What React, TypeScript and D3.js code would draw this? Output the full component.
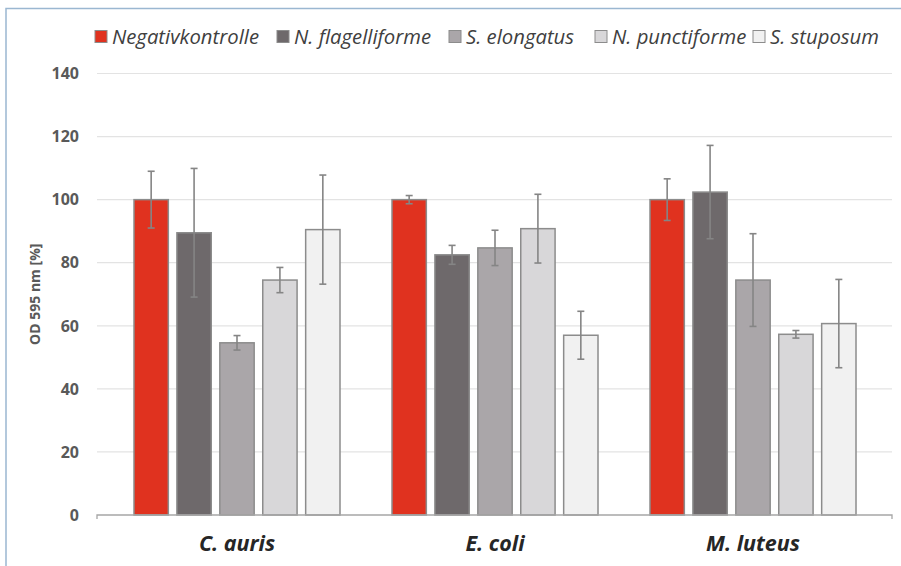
import React from 'react';
import * as d3 from 'd3';

const categories = ['C. auris', 'E. coli', 'M. luteus'];
const seriesNames = ['Negativkontrolle', 'N. flagelliforme', 'S. elongatus', 'N. punctiforme', 'S. stuposum'];
const seriesColors = ['#e0321f', '#6e696b', '#aaa6a9', '#d8d7d9', '#f1f1f1'];

// one array per series: values for C. auris, E. coli, M. luteus
const negativ = [100, 100, 100];
const flagelliforme = [89.5, 82.5, 102.4];
const elongatus = [54.6, 84.7, 74.5];
const punctiforme = [74.5, 90.8, 57.3];
const stuposum = [90.5, 57, 60.7];

const negativErr = [9, 1.3, 6.6];
const flagelliformeErr = [20.4, 3, 14.8];
const elongatusErr = [2.3, 5.6, 14.7];
const punctiformeErr = [4, 10.9, 1.2];
const stuposumErr = [17.3, 7.6, 14];

const seriesValues = [negativ, flagelliforme, elongatus, punctiforme, stuposum];
const seriesErrors = [negativErr, flagelliformeErr, elongatusErr, punctiformeErr, stuposumErr];

const yTicks = [0, 20, 40, 60, 80, 100, 120, 140];

const W = 901;
const H = 566;
const plotLeft = 97;
const plotRight = 892;
const labelColor = '#595959';
const font = "'Open Sans', Lato, sans-serif";

export default function App() {
  const y = d3.scaleLinear().domain([0, 140]).range([515, 73.5]);
  const x0 = d3.scaleBand<string>().domain(categories).range([108, 882]);
  const groupWidth = 206;
  const x1 = d3.scaleBand<string>().domain(seriesNames).range([0, groupWidth]).paddingInner(0.2);

  // legend layout: x where each label's text starts
  const legendTextX = [112, 294, 466, 612, 770];

  return (
    <svg width={W} height={H} style={{ position: 'absolute', left: 0, top: 0, background: '#fff' }}>
      {/* frame */}
      <path d={`M6,${H} L6,8.5 L${W},8.5`} fill="none" stroke="#9bb7d1" strokeWidth={1.5} />

      {/* gridlines */}
      {yTicks.filter(t => t > 0).map(t => (
        <line key={t} x1={plotLeft} x2={plotRight} y1={y(t)} y2={y(t)} stroke="#e3e3e3" strokeWidth={1.2} />
      ))}

      {/* y tick labels */}
      {yTicks.map(t => (
        <text key={t} x={79} y={y(t)} dy="0.36em" textAnchor="end"
          fontFamily={font} fontWeight="bold" fontSize={16} fill={labelColor}>
          {t}
        </text>
      ))}

      {/* y axis title */}
      <text transform={`translate(40,${y(70)}) rotate(-90)`} textAnchor="middle"
        fontFamily={font} fontWeight="bold" fontSize={14} fill={labelColor}>
        OD 595 nm [%]
      </text>

      {/* bars */}
      {categories.map((cat, ci) => {
        const gx = (x0(cat) ?? 0) + (x0.bandwidth() - groupWidth) / 2;
        return (
          <g key={cat} transform={`translate(${gx},0)`}>
            {seriesNames.map((s, si) => {
              const v = seriesValues[si][ci];
              const e = seriesErrors[si][ci];
              const bx = x1(s) ?? 0;
              const cx = bx + x1.bandwidth() / 2;
              return (
                <g key={s}>
                  <rect x={bx} y={y(v)} width={x1.bandwidth()} height={y(0) - y(v)}
                    fill={seriesColors[si]} stroke="#8c8c8c" strokeWidth={1.5} />
                  <line x1={cx} x2={cx} y1={y(v + e)} y2={y(v - e)} stroke="#858585" strokeWidth={1.6} />
                  <line x1={cx - 3.5} x2={cx + 3.5} y1={y(v + e)} y2={y(v + e)} stroke="#858585" strokeWidth={1.6} />
                  <line x1={cx - 3.5} x2={cx + 3.5} y1={y(v - e)} y2={y(v - e)} stroke="#858585" strokeWidth={1.6} />
                </g>
              );
            })}
          </g>
        );
      })}

      {/* x axis line */}
      <path d={`M${plotLeft},${y(0) + 4} L${plotLeft},${y(0)} L${plotRight},${y(0)} L${plotRight},${y(0) + 4}`}
        fill="none" stroke="#a6a6a6" strokeWidth={1.3} />

      {/* x labels */}
      {categories.map(cat => (
        <text key={cat} x={(x0(cat) ?? 0) + x0.bandwidth() / 2} y={551} textAnchor="middle"
          fontFamily={font} fontWeight="bold" fontStyle="italic" fontSize={21.5} fill="#262626">
          {cat}
        </text>
      ))}

      {/* legend */}
      {seriesNames.map((s, i) => (
        <g key={s} transform={`translate(${legendTextX[i]},0)`}>
          <rect x={-17} y={30.5} width={12} height={12} fill={seriesColors[i]} stroke="#8c8c8c" strokeWidth={1} />
          <text x={0} y={44} fontFamily={font} fontStyle="italic" fontSize={20.3} fill="#404040">
            {s}
          </text>
        </g>
      ))}
    </svg>
  );
}
